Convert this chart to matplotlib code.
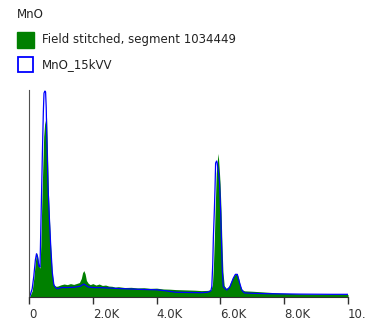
import matplotlib
matplotlib.use("Agg")
from matplotlib import pyplot as plt
from matplotlib.patches import Rectangle
from matplotlib.ticker import FixedLocator, FuncFormatter
import numpy as np

# spectrum 1: Field stitched, segment 1034449 (energy in keV, relative counts)
field_energy = [0.00, 0.03, 0.10, 0.15, 0.20, 0.235, 0.27, 0.31, 0.345, 0.37,
                0.40, 0.43, 0.46, 0.49, 0.52, 0.55, 0.58, 0.61, 0.64, 0.68,
                0.72, 0.76, 0.80, 0.85, 0.90, 0.95, 1.00, 1.10, 1.20, 1.30,
                1.40, 1.50, 1.58, 1.64, 1.68, 1.72, 1.76, 1.80, 1.86, 1.92,
                2.00, 2.10, 2.20, 2.30, 2.40, 2.50, 2.60, 2.70, 2.80, 3.00,
                3.20, 3.40, 3.60, 3.80, 4.00, 4.20, 4.40, 4.60, 4.80, 5.00,
                5.20, 5.40, 5.60, 5.70, 5.75, 5.78, 5.81, 5.84, 5.87, 5.90,
                5.93, 5.96, 5.99, 6.02, 6.05, 6.08, 6.12, 6.18, 6.25, 6.30,
                6.40, 6.47, 6.52, 6.57, 6.62, 6.68, 6.75, 7.00, 7.30, 7.60,
                7.90, 8.20, 8.60, 9.00, 9.50, 10.00]
field_counts = [0, 0.5, 3, 9, 17, 21.5, 20, 15, 14, 25,
                45, 62, 78, 84, 86, 87, 70, 50, 38, 24,
                13, 7, 5.5, 5.2, 5.3, 5.6, 5.9, 6.3, 6.0, 6.5,
                6.1, 6.6, 7.0, 9.0, 11.8, 12.8, 11.2, 8.0, 6.6, 6.0,
                6.5, 5.8, 6.3, 5.6, 5.8, 5.3, 5.2, 4.8, 5.0, 4.6,
                4.7, 4.4, 4.5, 4.2, 4.3, 3.9, 3.8, 3.6, 3.5, 3.4,
                3.3, 3.1, 3.2, 3.5, 6, 14.6, 28, 45, 60, 66,
                69.7, 63, 55, 42, 25, 12, 5.5, 4.2, 4.6, 6.5,
                9.8, 11.2, 11.4, 9.2, 5.5, 3.6, 3.0, 2.8, 2.5, 2.2,
                1.9, 1.7, 1.5, 1.4, 1.3, 1.2]

# spectrum 2: MnO_15kVV
mno_energy = [0.00, 0.03, 0.10, 0.15, 0.20, 0.235, 0.27, 0.31, 0.345, 0.37,
              0.40, 0.42, 0.45, 0.47, 0.50, 0.52, 0.54, 0.555, 0.595, 0.64,
              0.68, 0.73, 0.78, 0.85, 0.90, 0.95, 1.03, 1.20, 1.40, 1.60,
              1.72, 1.85, 2.00, 2.30, 2.60, 2.70, 3.00, 3.50, 4.00, 4.30,
              4.60, 5.00, 5.40, 5.60, 5.70, 5.73, 5.76, 5.78, 5.81, 5.83,
              5.85, 5.88, 5.90, 5.94, 5.97, 6.01, 6.06, 6.09, 6.20, 6.30,
              6.40, 6.47, 6.53, 6.60, 6.67, 6.75, 7.00, 7.50, 8.00, 8.50,
              9.00, 9.50, 10.00]
mno_counts = [0, 0.5, 4, 10, 18, 21, 19, 15, 14.5, 33,
              55, 70, 90, 99, 100, 99.5, 92, 80, 54, 38,
              25, 12, 5.8, 4.3, 4.0, 4.3, 4.6, 4.6, 4.7, 5.2,
              6.3, 4.9, 4.6, 4.5, 4.3, 4.2, 4.0, 3.7, 3.5, 3.0,
              2.3, 2.2, 2.1, 2.3, 3.0, 5, 16, 29, 42, 52,
              65, 66, 65, 60, 56.5, 40.5, 13, 5, 3.4, 5,
              9, 11, 11, 7, 3.4, 2, 1.8, 1.6, 1.5, 1.4,
              1.35, 1.3, 1.3]

tick_values = [0, 2000, 4000, 6000, 8000, 10000]

chart_title = "MnO"
series_names = ["Field stitched, segment 1034449", "MnO_15kVV"]

W, H = 366, 327
fig = plt.figure(figsize=(W / 100, H / 100), dpi=100)
fig.patch.set_facecolor("white")

ax = fig.add_axes([29 / W, (H - 297) / H, (348 - 29) / W, (297 - 90) / H])
fx = np.array(field_energy) * 1000
mx = np.array(mno_energy) * 1000
ax.fill_between(fx, field_counts, 0, color="#008000", linewidth=0)
ax.plot(mx, mno_counts, color="#0000ff", linewidth=0.9)

ax.set_xlim(0, 10000)
ax.set_ylim(0, 100.5)
for s in ["top", "right"]:
    ax.spines[s].set_visible(False)
ax.spines["left"].set_color("#505050")
ax.spines["bottom"].set_color("#303030")
ax.set_yticks([])
ax.xaxis.set_major_locator(FixedLocator(tick_values))
ax.xaxis.set_major_formatter(FuncFormatter(lambda v, p: "0" if v == 0 else "%.1fK" % (v / 1000)))
ax.tick_params(axis="x", direction="out", length=5, width=1, color="#303030",
               labelsize=8.5, labelcolor="#333333", pad=3)
for lbl in ax.get_xticklabels():
    lbl.set_horizontalalignment("left")

# legend block drawn in pixel coordinates
lg = fig.add_axes([0, 0, 1, 1])
lg.set_xlim(0, W)
lg.set_ylim(H, 0)
lg.axis("off")
lg.patch.set_alpha(0)
lg.text(17, 15, chart_title, fontsize=8.5, color="#222222", va="center", ha="left")
lg.add_patch(Rectangle((17, 31.5), 16.5, 16, facecolor="#008000", edgecolor="#008000"))
lg.text(42, 40, series_names[0], fontsize=8.5, color="#222222", va="center", ha="left")
lg.add_patch(Rectangle((17.5, 57), 15.5, 15, facecolor="white", edgecolor="#0000ff", linewidth=1.3))
lg.text(42, 64.5, series_names[1], fontsize=8.5, color="#222222", va="center", ha="left")

fig.savefig("out.png", dpi=100)
